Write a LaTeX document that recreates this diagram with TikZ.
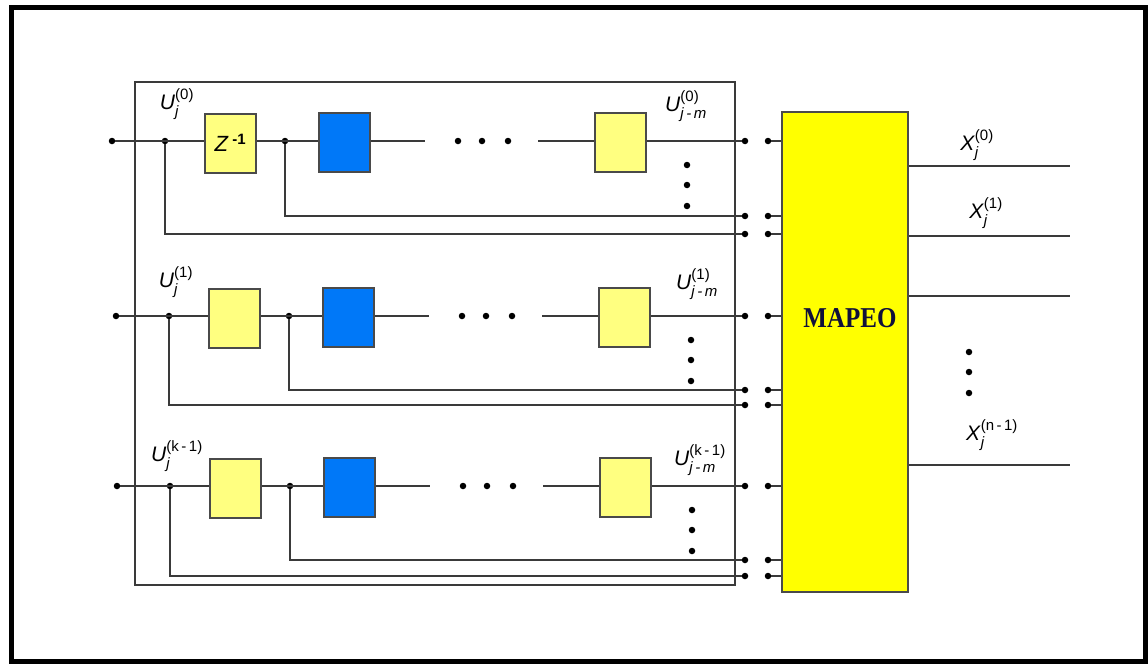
\documentclass[tikz,border=0pt]{standalone}
\usepackage{fontspec}
\usepackage{amsmath}
\setmainfont{Liberation Sans}
\newfontfamily\serifbold{Liberation Serif}
\usetikzlibrary{calc}
\definecolor{wirec}{HTML}{3A3A3A}
\definecolor{boxc}{HTML}{4A4A4A}
\definecolor{ylw}{HTML}{FFFF80}
\definecolor{blu}{HTML}{0078F8}
\definecolor{mapy}{HTML}{FFFF00}
\definecolor{mapt}{HTML}{10103A}
\newcommand{\scr}[1]{\text{\fontsize{15}{15}\selectfont #1}}
\newcommand{\Ulab}[2]{\textit{U}$^{\scr{(#1)}}_{\scr{\itshape #2}}$}
\newcommand{\Xlab}[1]{\textit{X}$^{\scr{(#1)}}_{\scr{\itshape j}}$}
\tikzset{
  wire/.style={draw=wirec, line width=1.6pt},
  dotn/.style={circle, fill=black, inner sep=0pt, minimum size=6.5pt},
  ybox/.style={draw=boxc, line width=2pt, fill=ylw, minimum width=51pt, minimum height=59pt, inner sep=0pt},
  bbox/.style={draw=boxc, line width=2pt, fill=blu, minimum width=51pt, minimum height=59pt, inner sep=0pt},
  mapbox/.style={draw=boxc, line width=2pt, fill=mapy, minimum width=126pt, minimum height=480pt, inner sep=0pt},
  lab/.style={font=\fontsize{21}{24}\selectfont, inner sep=0pt},
  frame/.style={draw=wirec, line width=1.8pt},
}
\begin{document}
\begin{tikzpicture}[x=1pt,y=-1pt]
\useasboundingbox (0,0) rectangle (1148,664);
\draw[line width=5pt] (11,7) rectangle (1145,661);
\draw[frame] (135,82) rectangle (735,585);
% MAPEO block
\node[mapbox] (M) at (845,352) {};
\node[font=\serifbold\bfseries\fontsize{25}{28}\selectfont, text=mapt] (Mt) at (850,318) {\scalebox{1}[1.15]{MAPEO}};
% rows
\foreach \r/\y/\dx/\ya/\yb/\txt in {0/141/0/216/234/{\textit{Z}\,$^{\scr{\bfseries -1}}$},1/316/4/390/405/{},2/486/5/560/576/{}}{
  \node[dotn] (in\r) at (112+\dx,\y) {};
  \node[dotn] (br\r) at (165+\dx,\y) {};
  \node[ybox, font=\fontsize{22}{24}\selectfont] (ya\r) at (230.5+\dx,\y+2) {\txt};
  \node[dotn] (d\r) at (285+\dx,\y) {};
  \node[bbox] (b\r) at (344.5+\dx,\y+1) {};
  \coordinate (e\r) at (425+\dx,\y);
  \node[dotn] (pa\r) at (458+\dx,\y) {};
  \node[dotn] (pb\r) at (482+\dx,\y) {};
  \node[dotn] (pc\r) at (508+\dx,\y) {};
  \coordinate (s\r) at (538+\dx,\y);
  \node[ybox] (yb\r) at (620.5+\dx,\y+1) {};
  \node[dotn] (o\r) at (745,\y) {};
  \node[dotn] (q\r) at (768,\y) {};
  \node[dotn] (oa\r) at (745,\ya) {};
  \node[dotn] (qa\r) at (768,\ya) {};
  \node[dotn] (ob\r) at (745,\yb) {};
  \node[dotn] (qb\r) at (768,\yb) {};
  \node[dotn] (va\r) at (687+\dx,\y+24) {};
  \node[dotn] (vb\r) at (687+\dx,\y+44) {};
  \node[dotn] (vc\r) at (687+\dx,\y+65) {};
  % wires
  \draw[wire] (in\r) -- (ya\r.west |- in\r);
  \draw[wire] (ya\r.east |- d\r) -- (b\r.west |- d\r);
  \draw[wire] (b\r.east |- e\r) -- (e\r);
  \draw[wire] (s\r) -- (yb\r.west |- s\r);
  \draw[wire] (yb\r.east |- o\r) -- (o\r);
  \draw[wire] (d\r) |- (oa\r);
  \draw[wire] (br\r) |- (ob\r);
  \draw[wire] (q\r) -- (M.west |- q\r);
  \draw[wire] (qa\r) -- (M.west |- qa\r);
  \draw[wire] (qb\r) -- (M.west |- qb\r);
}
% labels
\node[lab] (u0) at (177,104) {\Ulab{0}{j}};
\node[lab] (u0m) at (686,106) {\Ulab{0}{j\,-\,m}};
\node[lab] (u1) at (176,282) {\Ulab{1}{j}};
\node[lab] (u1m) at (697,284) {\Ulab{1}{j\,-\,m}};
\node[lab] (u2) at (177,456) {\Ulab{k\,-\,1}{j}};
\node[lab] (u2m) at (700,460) {\Ulab{k\,-\,1}{j\,-\,m}};
% outputs
\coordinate (x0) at (1070,166);
\coordinate (x1) at (1070,236);
\coordinate (x2) at (1070,296);
\coordinate (x3) at (1070,465);
\foreach \k in {0,...,3}{\draw[wire] (M.east |- x\k) -- (x\k);}
\node[lab] (X0) at (977,145) {\Xlab{0}};
\node[lab] (X1) at (986,213) {\Xlab{1}};
\node[lab] (X3) at (992,435) {\Xlab{n\,-\,1}};
\node[dotn] (xa) at (969,352) {};
\node[dotn] (xb) at (969,372) {};
\node[dotn] (xc) at (969,393) {};
\end{tikzpicture}
\end{document}
